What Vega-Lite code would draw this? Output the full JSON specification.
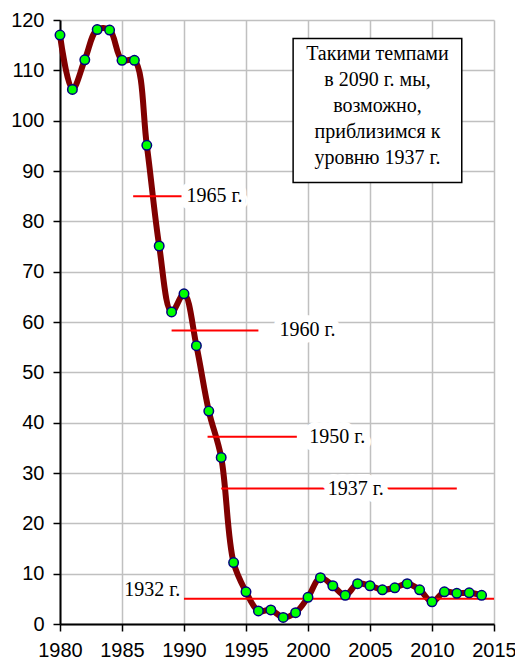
{
  "$schema": "https://vega.github.io/schema/vega-lite/v6.json",
  "width": 434,
  "height": 604,
  "autosize": {"type": "none"},
  "padding": {"left": 60, "top": 20, "right": 21, "bottom": 35},
  "background": "white",
  "config": {
    "view": {"stroke": null},
    "axis": {
      "labelFont": "Liberation Sans",
      "labelFontSize": 20,
      "labelColor": "black",
      "domainColor": "black",
      "domainWidth": 2,
      "tickColor": "black",
      "tickWidth": 1.5,
      "gridColor": "#c0c0c0",
      "gridWidth": 1.5
    }
  },
  "datasets": {
    "series": [
      {"year": 1980, "v": 117}, {"year": 1981, "v": 106.2}, {"year": 1982, "v": 112.1},
      {"year": 1983, "v": 118.1}, {"year": 1984, "v": 118}, {"year": 1985, "v": 112},
      {"year": 1986, "v": 112}, {"year": 1987, "v": 95.1}, {"year": 1988, "v": 75.1},
      {"year": 1989, "v": 62}, {"year": 1990, "v": 65.6}, {"year": 1991, "v": 55.3},
      {"year": 1992, "v": 42.3}, {"year": 1993, "v": 33.1}, {"year": 1994, "v": 12.2},
      {"year": 1995, "v": 6.4}, {"year": 1996, "v": 2.6}, {"year": 1997, "v": 2.8},
      {"year": 1998, "v": 1.3}, {"year": 1999, "v": 2.25}, {"year": 2000, "v": 5.3},
      {"year": 2001, "v": 9.2}, {"year": 2002, "v": 7.6}, {"year": 2003, "v": 5.7},
      {"year": 2004, "v": 8.0}, {"year": 2005, "v": 7.6}, {"year": 2006, "v": 6.8},
      {"year": 2007, "v": 7.2}, {"year": 2008, "v": 8.0}, {"year": 2009, "v": 6.8},
      {"year": 2010, "v": 4.4}, {"year": 2011, "v": 6.4}, {"year": 2012, "v": 6.1},
      {"year": 2013, "v": 6.2}, {"year": 2014, "v": 5.7}
    ],
    "refs": [
      {"ref": "1965 г.", "x1": 1985.9, "x2": 1989.8, "v": 85},
      {"ref": "1960 г.", "x1": 1989.0, "x2": 1996.0, "v": 58.3},
      {"ref": "1950 г.", "x1": 1991.9, "x2": 1999.1, "v": 37.2},
      {"ref": "1937 г.", "x1": 1993.0, "x2": 2012.0, "v": 26.9},
      {"ref": "1932 г.", "x1": 1990.0, "x2": 2015.0, "v": 5.0}
    ],
    "labelsLeft": [
      {"label": "1965 г.", "x": 1990.2, "v": 85},
      {"label": "1960 г.", "x": 1997.7, "v": 58.5},
      {"label": "1950 г.", "x": 2000.1, "v": 37.1},
      {"label": "1937 г.", "x": 2001.6, "v": 26.9}
    ],
    "labelsRight": [
      {"label": "1932 г.", "x": 1989.7, "v": 6.8}
    ],
    "box": [
      {"x1": 1998.8, "x2": 2012.4, "y1": 116.3, "y2": 87.7, "xc": 2005.6, "yc": 115.2,
       "note": "Такими темпами\nв 2090 г. мы,\nвозможно,\nприблизимся к\nуровню 1937 г."}
    ]
  },
  "layer": [
    {
      "data": {"name": "series"},
      "mark": {"type": "line", "interpolate": "catmull-rom", "color": "#800000", "strokeWidth": 6},
      "encoding": {
        "x": {"field": "year", "type": "quantitative",
              "scale": {"domain": [1980, 2015], "nice": false, "zero": false},
              "axis": {"title": null, "values": [1980, 1985, 1990, 1995, 2000, 2005, 2010, 2015], "format": "d",
                       "tickSize": 7, "labelPadding": 9, "labelFlush": false, "labelOverlap": false}},
        "y": {"field": "v", "type": "quantitative",
              "scale": {"domain": [0, 120], "nice": false},
              "axis": {"title": null, "values": [0, 10, 20, 30, 40, 50, 60, 70, 80, 90, 100, 110, 120],
                       "tickSize": 7, "labelPadding": 9, "labelOverlap": false}}
      }
    },
    {
      "data": {"name": "refs"},
      "mark": {"type": "rule", "color": "#ff0000", "strokeWidth": 2},
      "encoding": {
        "x": {"field": "x1", "type": "quantitative", "title": null},
        "x2": {"field": "x2"},
        "y": {"field": "v", "type": "quantitative", "title": null}
      }
    },
    {
      "data": {"name": "box"},
      "mark": {"type": "rect", "fill": "white", "stroke": "black", "strokeWidth": 1.5},
      "encoding": {
        "x": {"field": "x1", "type": "quantitative", "title": null},
        "x2": {"field": "x2"},
        "y": {"field": "y1", "type": "quantitative", "title": null},
        "y2": {"field": "y2"}
      }
    },
    {
      "data": {"name": "box"},
      "mark": {"type": "text", "font": "Liberation Serif", "fontSize": 20, "lineBreak": "\n",
               "lineHeight": 26, "align": "center", "baseline": "top", "color": "black"},
      "encoding": {
        "x": {"field": "xc", "type": "quantitative", "title": null},
        "y": {"field": "yc", "type": "quantitative", "title": null},
        "text": {"field": "note"}
      }
    },
    {
      "data": {"name": "labelsLeft"},
      "mark": {"type": "text", "font": "Liberation Serif", "fontSize": 20, "align": "left",
               "baseline": "middle", "stroke": "white", "strokeWidth": 14, "strokeJoin": "round", "fill": "white"},
      "encoding": {
        "x": {"field": "x", "type": "quantitative", "title": null},
        "y": {"field": "v", "type": "quantitative", "title": null},
        "text": {"field": "label"}
      }
    },
    {
      "data": {"name": "labelsLeft"},
      "mark": {"type": "text", "font": "Liberation Serif", "fontSize": 20, "align": "left",
               "baseline": "middle", "color": "black"},
      "encoding": {
        "x": {"field": "x", "type": "quantitative", "title": null},
        "y": {"field": "v", "type": "quantitative", "title": null},
        "text": {"field": "label"}
      }
    },
    {
      "data": {"name": "labelsRight"},
      "mark": {"type": "text", "font": "Liberation Serif", "fontSize": 20, "align": "right",
               "baseline": "middle", "color": "black"},
      "encoding": {
        "x": {"field": "x", "type": "quantitative", "title": null},
        "y": {"field": "v", "type": "quantitative", "title": null},
        "text": {"field": "label"}
      }
    },
    {
      "data": {"name": "series"},
      "mark": {"type": "point", "filled": true, "fill": "#00ff00", "stroke": "#000080",
               "strokeWidth": 1.5, "size": 90, "opacity": 1, "shape": "circle"},
      "encoding": {
        "x": {"field": "year", "type": "quantitative", "title": null},
        "y": {"field": "v", "type": "quantitative", "title": null}
      }
    }
  ]
}
